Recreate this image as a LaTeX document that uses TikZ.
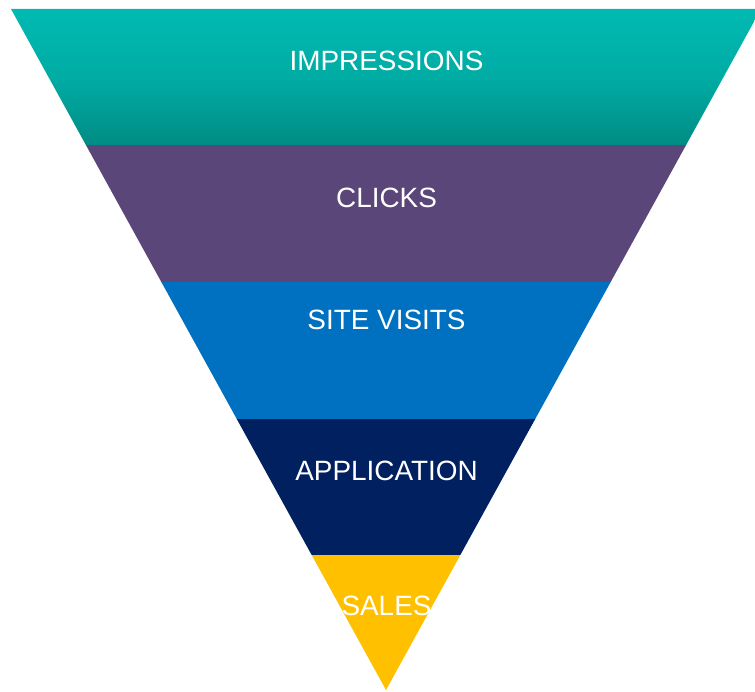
\documentclass[tikz,border=0pt]{standalone}
\usepackage{fontspec}
\setmainfont{Liberation Sans}
\definecolor{tealtop}{HTML}{00BAB2}
\definecolor{tealbot}{HTML}{008C84}
\definecolor{fpurple}{HTML}{5B4679}
\definecolor{fblue}{HTML}{0070C0}
\definecolor{fnavy}{HTML}{002060}
\definecolor{fyellow}{HTML}{FFC000}
\tikzset{lbl/.style={text=white, font=\fontsize{27.9}{30}\selectfont, inner sep=0pt}}
\begin{document}
\begin{tikzpicture}[x=1pt,y=1pt]
\useasboundingbox (0,0) rectangle (755,691);
\clip (0,0) rectangle (755,691);
% funnel triangle: top y=682 (px 9), apex (386,1)
\coordinate (tl) at (11,682);
\coordinate (tr) at (761,682);
\coordinate (ap) at (386,1);
\begin{scope}
\clip (tl) -- (tr) -- (ap) -- cycle;
\shade[top color=tealtop, bottom color=tealbot, middle color=tealtop!70!tealbot] (0,546) rectangle (770,682);
\fill[fpurple] (0,409) rectangle (770,546);
\fill[fblue] (0,272) rectangle (770,409);
\fill[fnavy] (0,136) rectangle (770,272);
\fill[fyellow] (0,0) rectangle (770,136);
\end{scope}
\node[lbl] (imp) at (386.5,630) {IMPRESSIONS};
\node[lbl] (clk) at (386.5,493) {CLICKS};
\node[lbl] (site) at (386.5,371) {SITE VISITS};
\node[lbl] (app) at (386.5,220) {APPLICATION};
\node[lbl] (sal) at (386.5,85) {SALES};
\end{tikzpicture}
\end{document}
